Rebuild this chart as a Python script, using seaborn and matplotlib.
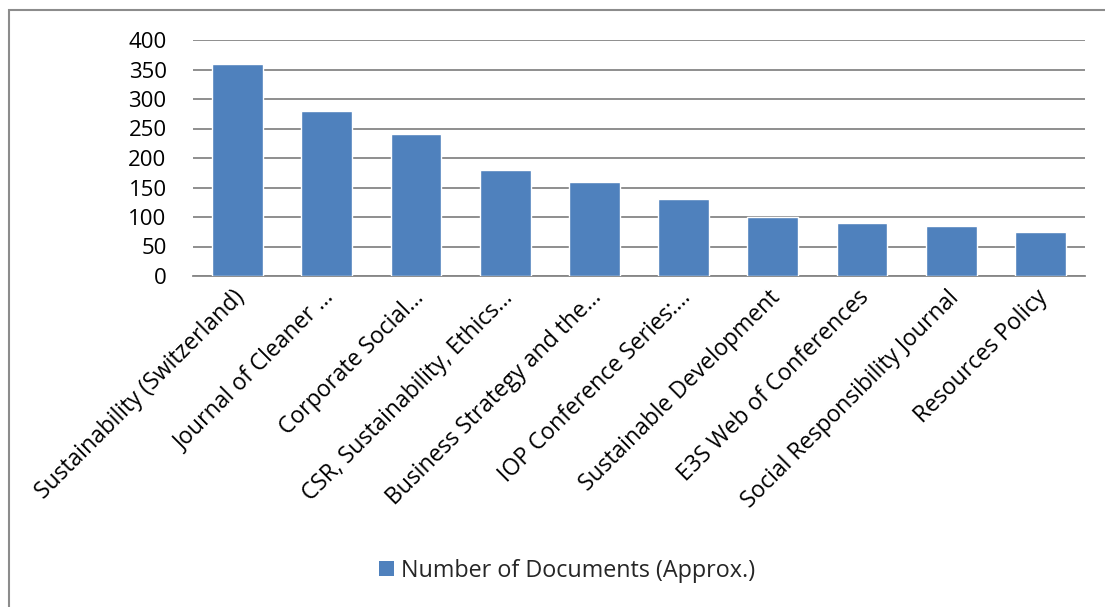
import matplotlib
matplotlib.use("Agg")
import matplotlib.pyplot as plt
import matplotlib.transforms as mtransforms
import seaborn as sns
import pandas as pd
from matplotlib.patches import Rectangle, Patch

categories = [
    "Sustainability (Switzerland)",
    "Journal of Cleaner …",
    "Corporate Social…",
    "CSR, Sustainability, Ethics…",
    "Business Strategy and the…",
    "IOP Conference Series:…",
    "Sustainable Development",
    "E3S Web of Conferences",
    "Social Responsibility Journal",
    "Resources Policy",
]
values = [360, 280, 240, 180, 160, 130, 100, 90, 85, 75]
series_name = "Number of Documents (Approx.)"
yticks = [0, 50, 100, 150, 200, 250, 300, 350, 400]

sns.set_theme(style="white")
plt.rcParams["font.family"] = ["Open Sans", "DejaVu Sans"]

df = pd.DataFrame({"Journal": categories, "Docs": values})

fig = plt.figure(figsize=(11.05, 6.07), dpi=100)
W, H = 1105, 607
ax = fig.add_axes([193 / W, 1 - 276 / H, (1085 - 193) / W, (276 - 40) / H])

sns.barplot(data=df, x="Journal", y="Docs", color="#4F81BD", width=0.57,
            saturation=1, ax=ax, zorder=3)

ax.set_ylim(0, 400)
ax.set_xlim(-0.5, len(categories) - 0.5)
ax.set_yticks(yticks)
ax.set_yticklabels([str(t) for t in yticks], fontsize=16, color="black")
ax.yaxis.grid(True, color="#868686", linewidth=1.3, zorder=0)
ax.set_axisbelow(True)
for s in ["top", "right", "left"]:
    ax.spines[s].set_visible(False)
ax.spines["bottom"].set_color("#868686")
ax.spines["bottom"].set_linewidth(1.3)
ax.tick_params(axis="y", length=0, pad=19)
ax.tick_params(axis="x", length=0, pad=6)
ax.set_xlabel("")
ax.set_ylabel("")
ax.set_xticks(range(len(categories)))
ax.set_xticklabels(categories, rotation=45, ha="right", rotation_mode="anchor",
                   fontsize=16.5, color="black")
for lbl in ax.get_xticklabels():
    lbl.set_verticalalignment("center")
    lbl.set_transform(lbl.get_transform() + mtransforms.ScaledTranslation(4 / 100, -10 / 100, fig.dpi_scale_trans))

# figure border
fig.patches.append(Rectangle((9 / W, -0.1), 1.2, (1 - 10 / H) + 0.1, transform=fig.transFigure,
                             fill=False, edgecolor="#8c8c8c", linewidth=1.5))

handles = [Patch(facecolor="#4F81BD", edgecolor="none", label=series_name)]
fig.legend(handles=handles, loc="center", bbox_to_anchor=(567 / W, 1 - 571 / H),
           frameon=False, fontsize=16.8, handlelength=0.62, handleheight=0.62,
           handletextpad=0.3)

fig.savefig("out.png", dpi=100, facecolor="white")
